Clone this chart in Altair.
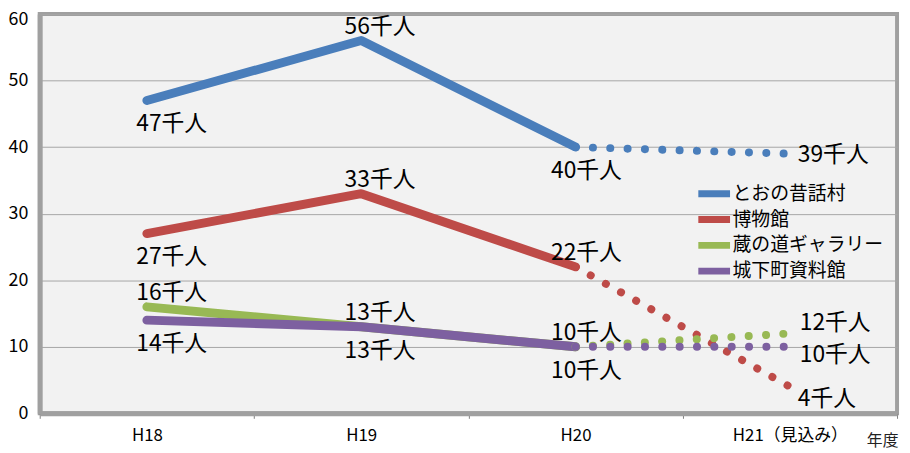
import altair as alt
import pandas as pd

years = ["H18", "H19", "H20", "H21（見込み）"]
series = ["とおの昔話村", "博物館", "蔵の道ギャラリー", "城下町資料館"]
v_tono = [47, 56, 40, 39]
v_haku = [27, 33, 22, 4]
v_kura = [16, 13, 10, 12]
v_joka = [14, 13, 10, 10]
colors = ["#4a7ebb", "#be4b48", "#98b954", "#7d60a0"]

# where each value label sits relative to its point
label_place = {
    "とおの昔話村": ["below", "above", "below", "right"],
    "博物館": ["below", "above", "above", "rightlow"],
    "蔵の道ギャラリー": ["above", "above", "above", "rightup"],
    "城下町資料館": ["below", "below", "below", "rightdown"],
}

values = {"とおの昔話村": v_tono, "博物館": v_haku, "蔵の道ギャラリー": v_kura, "城下町資料館": v_joka}
rows = []
for s in series:
    for i, y in enumerate(years):
        rows.append({"series": s, "year": y, "idx": i, "value": values[s][i],
                     "label": f"{values[s][i]}千人", "place": label_place[s][i]})
df = pd.DataFrame(rows)

FONT = "Noto Sans CJK JP"

xenc = alt.X("year:N", sort=years, bandPosition=0.5,
             scale=alt.Scale(type="band", domain=years, paddingInner=0, paddingOuter=0),
             axis=alt.Axis(title="年度", titleAlign="right", titleAnchor="end", titleX=866, titleY=27,
                           titleBaseline="middle", titleFontSize=16, titleFontWeight="normal",
                           titleFont=FONT, titleColor="#222",
                           labelAngle=0, labelFontSize=17, labelFont=FONT, labelColor="#000",
                           labelPadding=9, tickBand="extent", tickSize=5, tickColor="#808080",
                           domainColor="#a0a0a0", domainWidth=5, grid=False))
yenc = alt.Y("value:Q", scale=alt.Scale(domain=[0, 60], nice=False),
             axis=alt.Axis(title=None, values=[0, 10, 20, 30, 40, 50, 60], ticks=False,
                           labelFontSize=18, labelFont=FONT, labelColor="#000", labelPadding=12,
                           labelOffset=alt.condition("datum.value == 60", alt.value(6), alt.value(0)),
                           domainColor="#a0a0a0", domainWidth=5,
                           gridColor="#a6a6a6", gridWidth=1))
cenc = alt.Color("series:N", sort=series,
                 scale=alt.Scale(domain=series, range=colors),
                 legend=alt.Legend(title=None, orient="none", legendX=671, legendY=172,
                                   symbolType="M-4,0H4", symbolSize=64, symbolStrokeWidth=7,
                                   symbolDash=[100, 0],
                                   labelFontSize=19, labelFont=FONT, labelColor="#000",
                                   rowPadding=-3, labelOffset=9, padding=0))

base = alt.Chart(df)

solid = base.mark_line(strokeWidth=9, strokeCap="round", strokeJoin="round").encode(
    x=xenc, y=yenc, color=cenc, detail="series:N"
).transform_filter(alt.datum.idx <= 2)

dotted = base.mark_line(strokeWidth=8, strokeCap="round", strokeDash=[0.1, 17.4]).encode(
    x=xenc, y=yenc, color=cenc, detail="series:N"
).transform_filter(alt.datum.idx >= 2)

cat_dx = {"H18": 25, "H19": 19, "H20": 11}
layers = [solid, dotted]
for y, dx in cat_dx.items():
    for place, dy in [("above", -14), ("below", 24)]:
        layers.append(
            base.mark_text(font=FONT, fontSize=23, color="#000", align="center",
                           baseline="middle", dx=dx, dy=dy)
            .encode(x=xenc, y=yenc, text="label:N")
            .transform_filter((alt.datum.year == y) & (alt.datum.place == place))
        )
for place, dx, dy in [("right", 8, 1), ("rightup", 10, -10), ("rightdown", 10, 8), ("rightlow", 8, 12)]:
    layers.append(
        base.mark_text(font=FONT, fontSize=23, color="#000", align="left",
                       baseline="middle", dx=dx, dy=dy)
        .encode(x=xenc, y=yenc, text="label:N")
        .transform_filter(alt.datum.place == place)
    )

chart = alt.layer(*layers).properties(
    width=865, height=403,
    padding={"left": 32, "top": 4, "right": 5, "bottom": 35},
    autosize=alt.AutoSizeParams(type="none"),
    background="white",
).configure_view(fill="#f2f2f2", stroke="#a0a0a0", strokeWidth=4)

chart.save("out.html", embed_options={"renderer": "svg", "actions": False})
